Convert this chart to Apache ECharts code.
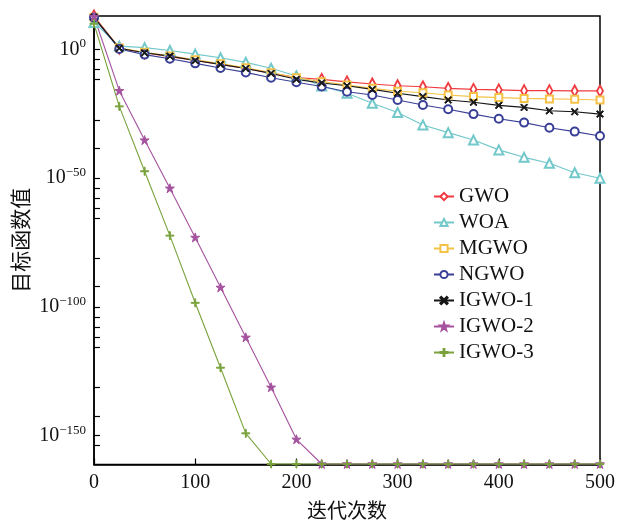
<!DOCTYPE html>
<html>
<head>
<meta charset="utf-8">
<script src="https://cdn.jsdelivr.net/npm/echarts@6/dist/echarts.min.js"></script>
<style>
html,body{margin:0;padding:0;background:#fff;}
#chart{width:619px;height:523px;}
</style>
</head>
<body>
<div id="chart"></div>
<script>
// Iterations (x values)
const iterations = [0,25,50,75,100,125,150,175,200,225,250,275,300,325,350,375,400,425,450,475,500];
const seriesNames = ['GWO','WOA','MGWO','NGWO','IGWO-1','IGWO-2','IGWO-3'];
// Objective values, given as base-10 exponents (value = 10^e)
const gwoExp   = [13.0,0.5,-1.3,-2.8,-4.3,-5.8,-7.4,-9.2,-10.9,-11.6,-12.6,-13.4,-14.1,-14.5,-15.1,-15.5,-15.7,-16.0,-16.0,-16.1,-16.1];
const woaExp   = [10.5,1.3,0.7,-0.4,-1.8,-3.2,-5.0,-7.3,-10.3,-14.2,-17.0,-20.9,-24.5,-29.3,-32.3,-35.2,-39.0,-41.9,-44.2,-47.9,-50.0];
const mgwoExp  = [12.5,0.6,-1.1,-2.5,-4.0,-5.5,-7.1,-9.0,-11.0,-12.5,-13.8,-15.1,-16.2,-16.8,-17.7,-18.3,-18.7,-19.0,-19.2,-19.35,-19.6];
const ngwoExp  = [12.3,0.2,-2.0,-3.6,-5.4,-7.2,-8.9,-11.0,-12.7,-14.4,-16.4,-17.7,-19.6,-21.6,-23.2,-25.1,-26.9,-28.4,-30.4,-31.9,-33.6];
const igwo1Exp = [12.5,0.5,-1.3,-2.6,-4.3,-5.8,-7.4,-9.3,-11.6,-13.0,-14.1,-15.5,-17.0,-18.3,-19.6,-20.5,-21.7,-22.5,-23.8,-24.2,-25.1];
const igwo2Exp = [12.8,-16.0,-35.2,-53.9,-73.0,-92.4,-111.8,-131.2,-151.4,-161.0,-161.0,-161.0,-161.0,-161.0,-161.0,-161.0,-161.0,-161.0,-161.0,-161.0,-161.0];
const igwo3Exp = [10.0,-22.1,-47.3,-72.3,-98.4,-123.6,-149.1,-161.0,-161.0,-161.0,-161.0,-161.0,-161.0,-161.0,-161.0,-161.0,-161.0,-161.0,-161.0,-161.0,-161.0];
// Axis tick labels (exponents) and tick marks (exponents)
const yLabelExp = [0,-50,-100,-150];
const yTickExp = [0,-3.9,-7.8,-11.6,-27.3,-38.3,-50,-53.9,-57.8,-61.7,-65.5,-81.1,-92.1,-100,-103.9,-107.8,-111.7,-115.5,-131.3,-142.5,-150,-153.9];
const xTicks = [0,100,200,300,400,500];

const colors = ['#ef3b3f','#72c8ca','#f4c247','#393f96','#151515','#a5529f','#79a23c'];
const symbols = [
  'emptyDiamond','emptyTriangle','emptyRect','emptyCircle',
  'path://M0,1.2L1.2,0L5,3.8L8.8,0L10,1.2L6.2,5L10,8.8L8.8,10L5,6.2L1.2,10L0,8.8L3.8,5Z',
  'path://M50,0L61.8,35.5L100,35.5L69.1,57.7L80.9,95.1L50,72.4L19.1,95.1L30.9,57.7L0,35.5L38.2,35.5Z',
  'path://M4.4,0h1.2v4.4h4.4v1.2h-4.4v4.4h-1.2v-4.4h-4.4v-1.2h4.4z'
];
const symbolSizes = [[6,11],9,7,8,7,9,8];
const expData = [gwoExp,woaExp,mgwoExp,ngwoExp,igwo1Exp,igwo2Exp,igwo3Exp];

const pow10 = e => Math.pow(10, e);
const serif = '"Liberation Serif","Noto Sans CJK SC",serif';

const series = seriesNames.map((name, i) => ({
  name: name,
  type: 'line',
  data: iterations.map((x, j) => [x, pow10(expData[i][j])]),
  symbol: symbols[i],
  symbolSize: symbolSizes[i],
  showAllSymbol: true,
  clip: false,
  lineStyle: {color: colors[i], width: 1.1},
  itemStyle: {color: colors[i], borderColor: colors[i], borderWidth: 1},
  emphasis: {disabled: true},
  animation: false
}));

const chart = echarts.init(document.getElementById('chart'), null, {renderer: 'canvas'});
chart.setOption({
  backgroundColor: '#fff',
  animation: false,
  grid: {left: 94, right: 19, top: 16, bottom: 58.5, show: true, borderColor: '#000', borderWidth: 1.5, backgroundColor: 'transparent', containLabel: false, outerBoundsMode: 'none'},
  legend: {
    orient: 'vertical',
    left: 428,
    top: 181,
    itemWidth: 20,
    itemHeight: 9,
    itemGap: 5,
    data: seriesNames,
    textStyle: {fontFamily: serif, fontSize: 21, color: '#111'},
    backgroundColor: 'transparent'
  },
  xAxis: {
    type: 'value',
    min: 0, max: 500, interval: 100,
    name: '迭代次数',
    nameLocation: 'middle',
    nameGap: 38,
    nameMoveOverlap: false,
    nameTextStyle: {fontFamily: serif, fontSize: 20, color: '#111'},
    axisLine: {show: true, lineStyle: {color: '#000', width: 1.5}},
    axisTick: {show: true, inside: true, length: 6, lineStyle: {color: '#000', width: 1.2}},
    axisLabel: {fontFamily: serif, fontSize: 20, color: '#111', margin: 8, customValues: xTicks},
    splitLine: {show: false}
  },
  yAxis: {
    type: 'log',
    logBase: 10,
    min: pow10(-161.2),
    max: pow10(13),
    name: '目标函数值',
    nameLocation: 'middle',
    nameRotate: 90,
    nameGap: 61,
    nameMoveOverlap: false,
    nameTextStyle: {fontFamily: serif, fontSize: 21, color: '#111'},
    axisLine: {show: true, lineStyle: {color: '#000', width: 1.5}},
    axisTick: {show: true, inside: true, length: 6, lineStyle: {color: '#000', width: 1.2}, customValues: yTickExp.map(pow10)},
    minorTick: {show: false},
    axisLabel: {
      margin: 8,
      customValues: yLabelExp.map(pow10),
      formatter: function (v) {
        const e = Math.round(Math.log10(v));
        return '{b|10}{s|' + (e < 0 ? '\u2212' + (-e) : String(e)) + '}';
      },
      rich: {
        b: {fontFamily: serif, fontSize: 20, color: '#111'},
        s: {fontFamily: serif, fontSize: 13, color: '#111', padding: [0, 0, 11, 0]}
      }
    },
    splitLine: {show: false}
  },
  series: series
});
</script>
</body>
</html>
